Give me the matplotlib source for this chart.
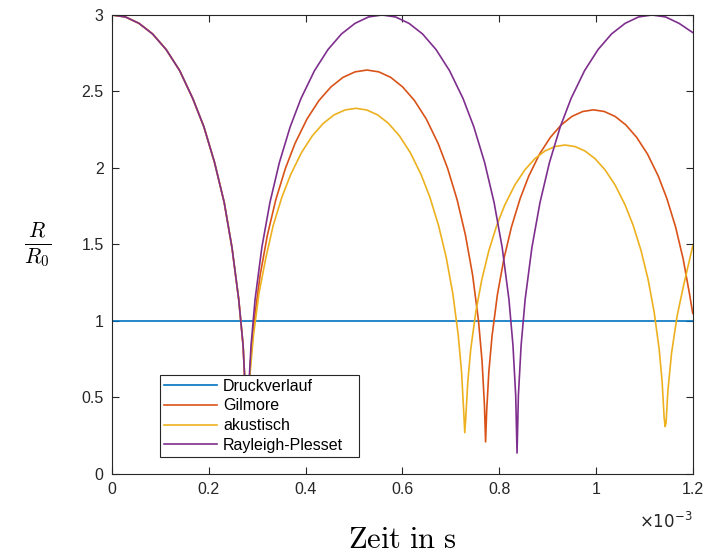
import matplotlib
matplotlib.use('Agg')
import matplotlib.pyplot as plt

# Zeit in ms (Achse wird als x 10^-3 s beschriftet)
t_druck = [0.0, 1.2]
r_druck = [1.0, 1.0]

t_gilmore = [0.0, 0.028, 0.056, 0.084, 0.112, 0.140, 0.167, 0.190, 0.212, 0.232, 0.248, 0.262, 0.271, 0.276, 0.279,
             0.2815, 0.2864, 0.2939, 0.3063, 0.3212, 0.3385, 0.3584, 0.3782, 0.403, 0.4278, 0.4526, 0.4774, 0.5022, 0.527,
             0.5515, 0.576, 0.6005, 0.625, 0.6495, 0.674, 0.6936, 0.7132, 0.7304, 0.7451, 0.7573, 0.7647, 0.7696, 0.772,
             0.7742, 0.7787, 0.7854, 0.7965, 0.8099, 0.8255, 0.8434, 0.8612, 0.8835, 0.9058, 0.9281, 0.9504, 0.9727, 0.995,
             1.0173, 1.0396, 1.0619, 1.0842, 1.1065, 1.1288, 1.1466, 1.1645, 1.1801, 1.1935, 1.2]
r_gilmore = [3.0, 2.987, 2.945, 2.876, 2.774, 2.636, 2.454, 2.269, 2.036, 1.774, 1.480, 1.140, 0.840, 0.515, 0.12,
             0.453, 0.739, 1.003, 1.302, 1.561, 1.792, 1.997, 2.160, 2.320, 2.441, 2.530, 2.592, 2.628, 2.640,
             2.628, 2.592, 2.530, 2.441, 2.320, 2.160, 1.997, 1.792, 1.561, 1.302, 1.003, 0.739, 0.453, 0.21,
             0.408, 0.667, 0.904, 1.174, 1.407, 1.615, 1.800, 1.947, 2.091, 2.200, 2.281, 2.337, 2.369, 2.380,
             2.369, 2.337, 2.281, 2.200, 2.091, 1.947, 1.800, 1.615, 1.407, 1.174, 1.05]

t_akustisch = [0.0, 0.028, 0.056, 0.084, 0.112, 0.140, 0.167, 0.190, 0.212, 0.232, 0.248, 0.262, 0.271, 0.276, 0.279,
               0.2812, 0.2857, 0.2925, 0.3037, 0.318, 0.333, 0.351, 0.369, 0.3915, 0.414, 0.4365, 0.459, 0.4815, 0.504,
               0.5265, 0.549, 0.5715, 0.594, 0.6165, 0.639, 0.657, 0.675, 0.6908, 0.7043, 0.7155, 0.7223, 0.7268, 0.729,
               0.7311, 0.7352, 0.7414, 0.7518, 0.7642, 0.7787, 0.7952, 0.8118, 0.8325, 0.8532, 0.8739, 0.8946, 0.9153, 0.936,
               0.9567, 0.9774, 0.9981, 1.0188, 1.0395, 1.0602, 1.0768, 1.0933, 1.1078, 1.1202, 1.1306, 1.1368, 1.1409, 1.143,
               1.1449, 1.1487, 1.1563, 1.1677, 1.181, 1.2]
r_akustisch = [3.0, 2.987, 2.945, 2.876, 2.774, 2.636, 2.454, 2.269, 2.036, 1.774, 1.480, 1.140, 0.840, 0.515, 0.12,
               0.410, 0.669, 0.908, 1.179, 1.413, 1.622, 1.808, 1.955, 2.100, 2.210, 2.291, 2.347, 2.379, 2.390,
               2.379, 2.347, 2.291, 2.210, 2.100, 1.955, 1.808, 1.622, 1.413, 1.179, 0.908, 0.669, 0.410, 0.27,
               0.369, 0.602, 0.817, 1.060, 1.271, 1.459, 1.626, 1.759, 1.889, 1.988, 2.061, 2.111, 2.140, 2.150,
               2.140, 2.111, 2.061, 1.988, 1.889, 1.759, 1.626, 1.459, 1.271, 1.060, 0.817, 0.602, 0.369, 0.31,
               0.335, 0.546, 0.792, 1.032, 1.231, 1.49]

t_rp = [0.0, 0.028, 0.056, 0.084, 0.112, 0.140, 0.167, 0.190, 0.212, 0.232, 0.248, 0.262, 0.271, 0.276, 0.279,
        0.2818, 0.2874, 0.2957, 0.3097, 0.3264, 0.346, 0.3683, 0.3906, 0.4185, 0.4464, 0.4743, 0.5022, 0.5301, 0.558,
        0.5859, 0.6138, 0.6417, 0.6696, 0.6975, 0.7254, 0.7477, 0.770, 0.7896, 0.8063, 0.8203, 0.8286, 0.8342, 0.837,
        0.8398, 0.8454, 0.8537, 0.8677, 0.8844, 0.904, 0.9263, 0.9486, 0.9765, 1.0044, 1.0323, 1.0602, 1.0881, 1.116,
        1.1439, 1.1718, 1.2]
r_rp = [3.0, 2.987, 2.945, 2.876, 2.774, 2.636, 2.454, 2.269, 2.036, 1.774, 1.480, 1.140, 0.840, 0.515, 0.12,
        0.515, 0.840, 1.140, 1.480, 1.774, 2.036, 2.269, 2.454, 2.636, 2.774, 2.876, 2.945, 2.987, 3.0,
        2.987, 2.945, 2.876, 2.774, 2.636, 2.454, 2.269, 2.036, 1.774, 1.480, 1.140, 0.840, 0.515, 0.137,
        0.515, 0.840, 1.140, 1.480, 1.774, 2.036, 2.269, 2.454, 2.636, 2.774, 2.876, 2.945, 2.987, 3.0,
        2.987, 2.945, 2.885]

x_ticks = [0, 0.2, 0.4, 0.6, 0.8, 1.0, 1.2]
x_ticklabels = ['0', '0.2', '0.4', '0.6', '0.8', '1', '1.2']
y_ticks = [0, 0.5, 1, 1.5, 2, 2.5, 3]
y_ticklabels = ['0', '0.5', '1', '1.5', '2', '2.5', '3']

plt.rcParams['font.family'] = ['Liberation Sans', 'DejaVu Sans']
plt.rcParams['mathtext.fontset'] = 'cm'

fig = plt.figure(figsize=(7.04, 5.54), dpi=100)
ax = fig.add_axes([0.159, 0.1444, 0.825, 0.8286])

ax.plot(t_druck, r_druck, color='#0072BD', lw=1.2, label='Druckverlauf')
ax.plot(t_gilmore, r_gilmore, color='#D95319', lw=1.2, label='Gilmore')
ax.plot(t_akustisch, r_akustisch, color='#EDB120', lw=1.2, label='akustisch')
ax.plot(t_rp, r_rp, color='#7E2F8E', lw=1.2, label='Rayleigh-Plesset')

ax.set_xlim(0, 1.2)
ax.set_ylim(0, 3)
ax.set_xticks(x_ticks)
ax.set_xticklabels(x_ticklabels)
ax.set_yticks(y_ticks)
ax.set_yticklabels(y_ticklabels)
ax.tick_params(direction='in', top=True, right=True, length=5, width=0.8,
               colors='#262626', labelsize=11.5, pad=6)
for s in ax.spines.values():
    s.set_color('#262626')
    s.set_linewidth(0.8)

ax.text(1.0, -0.08, r'$\times10^{-3}$', transform=ax.transAxes, ha='right', va='top',
        fontsize=12, color='#262626', math_fontfamily='dejavusans')

ax.set_xlabel(r'$\mathrm{Zeit\ in\ s}$', fontsize=22, labelpad=20)
fig.text(0.053, 0.558, r'$\frac{R}{R_0}$', fontsize=22, ha='center', va='center')

leg = ax.legend(loc='lower left', bbox_to_anchor=(0.083, 0.037, 0.342, 0.181),
                mode='expand', fontsize=11.5, frameon=True, fancybox=False,
                handlelength=3.3, borderpad=0.25, labelspacing=0.3, handletextpad=0.4,
                borderaxespad=0)
leg.get_frame().set_edgecolor('#262626')
leg.get_frame().set_linewidth(0.8)
leg.get_frame().set_alpha(1)

fig.savefig('out.png', dpi=100)
